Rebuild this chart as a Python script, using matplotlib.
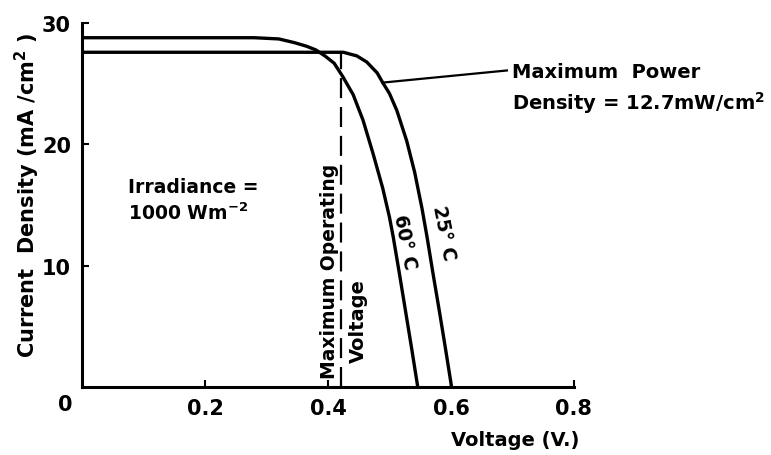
import matplotlib
matplotlib.use("Agg")
import matplotlib.pyplot as plt

# I-V CURVE DATA
v_25 = [0.0, 0.35, 0.40, 0.425, 0.447, 0.463, 0.480, 0.489, 0.500, 0.512,
        0.528, 0.541, 0.553, 0.561, 0.571, 0.581, 0.591, 0.601]
j_25 = [27.6, 27.6, 27.6, 27.6, 27.3, 26.8, 25.9, 25.1, 24.2, 22.8,
        20.3, 17.7, 14.7, 12.4, 9.3, 6.3, 3.2, 0.0]

v_60 = [0.0, 0.28, 0.32, 0.345, 0.365, 0.38, 0.395, 0.41, 0.424, 0.441,
        0.457, 0.473, 0.489, 0.500, 0.506, 0.516, 0.526, 0.536, 0.546]
j_60 = [28.8, 28.8, 28.7, 28.4, 28.1, 27.8, 27.3, 26.7, 25.6, 24.1,
        22.0, 19.3, 16.4, 14.0, 12.4, 9.4, 6.3, 3.2, 0.0]

v_mop = 0.421          # maximum operating voltage
j_mop_top = 27.5
mpp = (0.489, 25.1)     # maximum power point on 25 C curve

x_ticks = [0.2, 0.4, 0.6, 0.8]
x_labels = ["0.2", "0.4", "0.6", "0.8"]
y_ticks = [10, 20, 30]
y_labels = ["10", "20", "30"]

plt.rcParams['font.family'] = 'DejaVu Sans'
plt.rcParams['font.weight'] = 'bold'

fig = plt.figure(figsize=(7.71, 4.56), dpi=100)
ax = fig.add_axes([0.1064, 0.1491, 0.638, 0.7979])

ax.plot(v_25, j_25, 'k-', lw=2.4, solid_capstyle='butt')
ax.plot(v_60, j_60, 'k-', lw=2.4, solid_capstyle='butt')

# DASHED MAXIMUM OPERATING VOLTAGE LINE
ax.plot([v_mop, v_mop], [0, j_mop_top], 'k', lw=1.6, dashes=(9, 4))

# LEADER TO MAXIMUM POWER TEXT
ax.plot([mpp[0], 0.691], [mpp[1], 26.1], 'k-', lw=1.6, clip_on=False)

ax.set_xlim(0, 0.8)
ax.set_ylim(0, 30)
for s in ['top', 'right']:
    ax.spines[s].set_visible(False)
for s in ['left', 'bottom']:
    ax.spines[s].set_linewidth(2.2)

ax.set_xticks(x_ticks)
ax.set_xticklabels(x_labels)
ax.set_yticks(y_ticks)
ax.set_yticklabels(y_labels)
ax.tick_params(direction='in', length=5, width=1.5, labelsize=15, pad=8)

ax.text(-0.028, -1.4, "0", fontsize=15, ha='center', va='center', fontweight='bold')

ax.text(-0.112, 0.53, "Current  Density (mA /cm$^{\\mathbf{2}}$ )", fontsize=15,
        rotation=90, ha='center', va='center', fontweight='bold', transform=ax.transAxes)
ax.text(0.704, -4.3, "Voltage (V.)", fontsize=14, ha='center', va='center', fontweight='bold')

ax.text(0.075, 16.5, "Irradiance =", fontsize=13.5, ha='left', va='center', fontweight='bold')
ax.text(0.075, 14.4, "1000 Wm$^{\\mathbf{-2}}$", fontsize=13.5, ha='left', va='center', fontweight='bold')

ax.text(0.403, 9.6, "Maximum Operating", fontsize=13.5, rotation=90, ha='center', va='center', fontweight='bold')
ax.text(0.449, 5.5, "Voltage", fontsize=14, rotation=90, ha='center', va='center', fontweight='bold')

ax.text(0.525, 12.0, "60° C", fontsize=13.5, rotation=-79, ha='center', va='center', fontweight='bold')
ax.text(0.588, 12.8, "25° C", fontsize=13.5, rotation=-79, ha='center', va='center', fontweight='bold')

ax.text(0.699, 26.0, "Maximum  Power", fontsize=14, ha='left', va='center', fontweight='bold')
ax.text(0.699, 23.5, "Density = 12.7mW/cm$^{\\mathbf{2}}$", fontsize=14, ha='left', va='center', fontweight='bold')

fig.savefig("out.png", dpi=100)
